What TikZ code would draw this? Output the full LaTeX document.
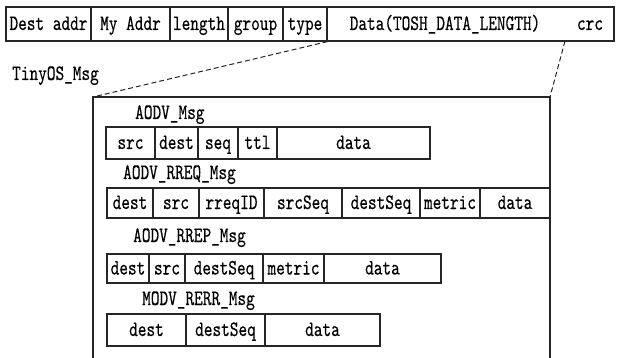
\documentclass[tikz,border=0pt]{standalone}
\usepackage{fontspec}
\newfontfamily\monof[FakeStretch=0.75,FakeBold=0.4]{lmmono10-regular.otf}
\newcommand\fcell[6]{\node[cell, minimum width={#3pt-#2pt}, minimum height={#5pt-#4pt}] (#1) at ({(#2+#3)/2},{(#4+#5)/2}) {#6};}
\begin{document}
\begin{tikzpicture}[x=1pt,y=-1pt,
  txt/.style={inner sep=0pt, text height=15pt, text depth=3pt, font=\monof\fontsize{22}{22}\selectfont},
  cell/.style={txt, draw=black!85, line width=1.2pt},
  lbl/.style={txt, anchor=west},
  frameline/.style={draw=black!85, line width=1.2pt},
  dashline/.style={draw=black!85, line width=1pt, dash pattern=on 5pt off 3pt}]
\useasboundingbox (0,0) rectangle (618,358);
% top row
\fcell{dst}{6}{91}{7}{41}{Dest addr}
\fcell{my}{91}{170}{7}{41}{My Addr}
\fcell{len}{170}{228}{7}{41}{length}
\fcell{grp}{228}{283}{7}{41}{group}
\fcell{typ}{283}{327}{7}{41}{type}
\fcell{dat}{327}{614}{7}{41}{}
\node[txt] (dattxt) at (445,24) {Data(TOSH\_DATA\_LENGTH)};
\node[txt] (crc) at (590,24) {crc};
\node[lbl] (tiny) at (12,74) {TinyOS\_Msg};
% frame
\coordinate (fnw) at (93,97);
\coordinate (fne) at (550,97);
\coordinate (fsw) at (93,358);
\coordinate (fse) at (550,358);
\coordinate (crcfoot) at (565,41);
\draw[frameline] (fsw) -- (fnw) -- (fne) -- (fse);
\draw[dashline] (typ.south east) -- (fnw);
\draw[dashline] (crcfoot) -- (fne);
% AODV_Msg
\node[lbl] (l1) at (135,113) {AODV\_Msg};
\fcell{a1}{106}{155}{127}{159}{src}
\fcell{a2}{155}{198}{127}{159}{dest}
\fcell{a3}{198}{238}{127}{159}{seq}
\fcell{a4}{238}{277}{127}{159}{ttl}
\fcell{a5}{277}{430}{127}{159}{data}
% AODV_RREQ_Msg
\node[lbl] (l2) at (123,173) {AODV\_RREQ\_Msg};
\fcell{b1}{107}{153}{188}{218}{dest}
\fcell{b2}{153}{199}{188}{218}{src}
\fcell{b3}{199}{264}{188}{218}{rreqID}
\fcell{b4}{264}{342}{188}{218}{srcSeq}
\fcell{b5}{342}{420}{188}{218}{destSeq}
\fcell{b6}{420}{480}{188}{218}{metric}
\fcell{b7}{480}{550}{188}{218}{data}
% AODV_RREP_Msg
\node[lbl] (l3) at (133,236) {AODV\_RREP\_Msg};
\fcell{c1}{107}{149}{254}{283}{dest}
\fcell{c2}{149}{185}{254}{283}{src}
\fcell{c3}{185}{263}{254}{283}{destSeq}
\fcell{c4}{263}{324}{254}{283}{metric}
\fcell{c5}{324}{441}{254}{283}{data}
% MODV_RERR_Msg
\node[lbl] (l4) at (142,299) {MODV\_RERR\_Msg};
\fcell{d1}{107}{186}{314}{346}{dest}
\fcell{d2}{186}{265}{314}{346}{destSeq}
\fcell{d3}{265}{380}{314}{346}{data}
\end{tikzpicture}
\end{document}
